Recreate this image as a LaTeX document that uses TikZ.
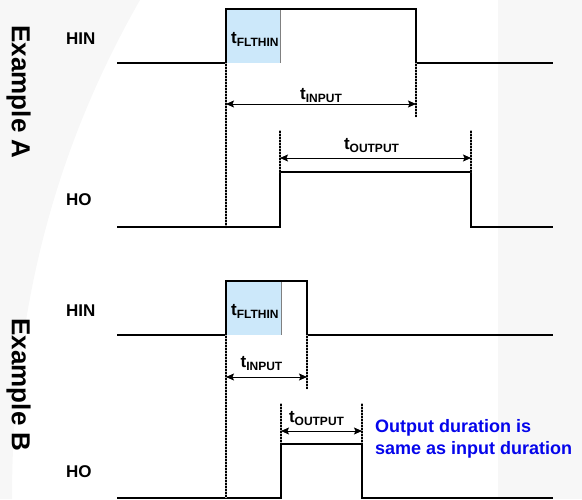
\documentclass[tikz,border=0pt]{standalone}
\usepackage{fontspec}
\setmainfont{Liberation Sans}
\usetikzlibrary{arrows.meta}
\definecolor{fltblue}{RGB}{204,232,250}
\definecolor{wmgray}{RGB}{247,247,247}
\definecolor{noteblue}{RGB}{5,5,235}
\newcommand{\tsub}[1]{t{\fontsize{12}{12}\selectfont\raisebox{-3pt}{#1}}}

\begin{document}
\begin{tikzpicture}[x=1pt,y=-1pt,
        sig/.style={line width=2pt},
        dotedge/.style={draw=black,line width=2.8pt,
            postaction={draw=white!70!black,line width=1.2pt,dash pattern=on 1pt off 2pt}},
        span/.style={line width=0.9pt,{Stealth[length=8pt,width=7pt,inset=1.5pt]}-{Stealth[length=8pt,width=7pt,inset=1.5pt]}},
        lbl/.style={inner sep=0pt,anchor=base west,font=\bfseries\fontsize{17}{17}\selectfont},
        tlab/.style={inner sep=0pt,font=\bfseries\fontsize{17}{17}\selectfont},
        example/.style={inner sep=0pt,anchor=base,rotate=-90,font=\bfseries\fontsize{26}{26}\selectfont}]
        \useasboundingbox (0,0) rectangle (582,499);

        % faint background
        \fill[wmgray] (0,0) -- (140,0) .. controls (60,140) and (12,300) .. (12,499) -- (0,499) -- cycle;
        \fill[wmgray] (498,0) rectangle (582,499);

        % Example A
        \node[example] (exA) at (12,92) {Example A};
        \node[lbl] (hinA) at (66,44) {HIN};
        \node[lbl] (hoA) at (66,205) {HO};

        \fill[fltblue] (226,9) rectangle (280,63);
        \draw[gray,line width=0.6pt] (280,9)--(280,63);
        \node[tlab,anchor=base west] (fltA) at (231,43) {\tsub{FLTHIN}};

        \draw[sig] (117,63)--(226,63)--(226,9)--(416,9)--(416,63)--(553,63);
        \draw[sig] (117,227)--(280,227)--(280,172)--(471,172)--(471,227)--(553,227);

        \path[dotedge] (226,63)--(226,228);
        \path[dotedge] (416,63)--(416,117);
        \path[dotedge] (280,130)--(280,172);
        \path[dotedge] (471,130)--(471,172);

        \coordinate (inAl) at (226,104);
        \coordinate (inAr) at (416,104);
        \coordinate (outAl) at (280,158);
        \coordinate (outAr) at (471,158);
        \draw[span] (inAl)--(inAr) node[tlab,midway,above=1pt] (tinA) {\tsub{INPUT}};
        \draw[span] (outAl)--(outAr) node[tlab,midway,above=5pt,xshift=-4pt] (toutA) {\tsub{OUTPUT}};

        % Example B
        \node[example] (exB) at (12,385) {Example B};
        \node[lbl] (hinB) at (66,316) {HIN};
        \node[lbl] (hoB) at (66,477) {HO};

        \fill[fltblue] (226,281) rectangle (281,335);
        \draw[gray,line width=0.6pt] (281,281)--(281,335);
        \node[tlab,anchor=base west] (fltB) at (231,315) {\tsub{FLTHIN}};

        \draw[sig] (117,335)--(226,335)--(226,281)--(307,281)--(307,335)--(553,335);
        \draw[sig] (117,498)--(281,498)--(281,444)--(362,444)--(362,498)--(553,498);

        \path[dotedge] (226,335)--(226,499);
        \path[dotedge] (307,335)--(307,389);
        \path[dotedge] (281,403)--(281,444);
        \path[dotedge] (362,403)--(362,444);

        \coordinate (inBl) at (226,377);
        \coordinate (inBr) at (307,377);
        \coordinate (outBl) at (281,431);
        \coordinate (outBr) at (362,431);
        \draw[span] (inBl)--(inBr) node[tlab,midway,above=6pt,xshift=-5pt] (tinB) {\tsub{INPUT}};
        \draw[span] (outBl)--(outBr) node[tlab,midway,above=5pt,xshift=-5pt] (toutB) {\tsub{OUTPUT}};

        \node[lbl,text=noteblue,font=\bfseries\fontsize{18}{18}\selectfont] (noteA) at (375,432) {Output duration is};
        \node[lbl,text=noteblue,font=\bfseries\fontsize{18}{18}\selectfont] (noteB) at (375,454) {same as input duration};
\end{tikzpicture}
\end{document}
